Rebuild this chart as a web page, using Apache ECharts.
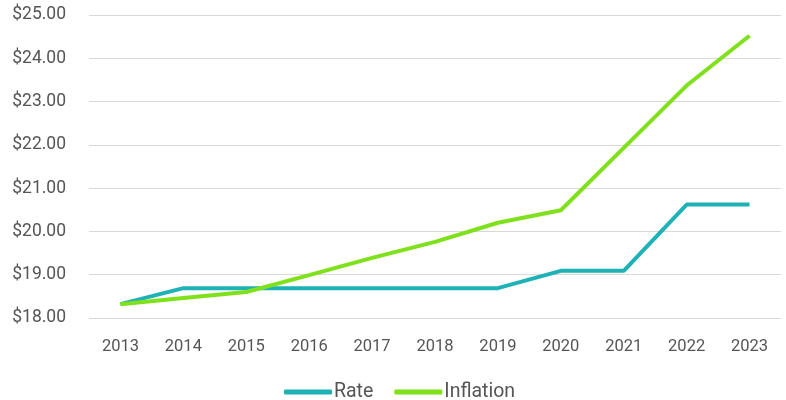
<!DOCTYPE html>
<html>
<head>
<meta charset="utf-8">
<script src="https://cdn.jsdelivr.net/npm/echarts@6/dist/echarts.min.js"></script>
<style>
  html, body { margin: 0; padding: 0; background: #fff; }
  #chart { width: 786px; height: 400px; }
</style>
</head>
<body>
<div id="chart"></div>
<script>
var years = ['2013', '2014', '2015', '2016', '2017', '2018', '2019', '2020', '2021', '2022', '2023'];
var rate = [18.32, 18.69, 18.69, 18.69, 18.69, 18.69, 18.69, 19.09, 19.09, 20.62, 20.62];
var inflation = [18.32, 18.46, 18.60, 18.99, 19.39, 19.76, 20.20, 20.49, 21.93, 23.37, 24.52];

var chart = echarts.init(document.getElementById('chart'));
chart.setOption({
  animation: false,
  textStyle: { fontFamily: 'Roboto' },
  grid: { left: 89, right: 5, top: 15, bottom: 82 },
  legend: {
    top: 377,
    left: 279,
    itemWidth: 48,
    itemHeight: 5,
    itemGap: 21,
    icon: 'roundRect',
    textStyle: { fontSize: 19.5, color: '#555', fontFamily: 'Roboto', padding: [0, 0, 0, -3] },
    data: ['Rate', 'Inflation']
  },
  xAxis: {
    type: 'category',
    data: years,
    boundaryGap: true,
    axisLine: { show: false },
    axisTick: { show: false },
    axisLabel: { fontSize: 16.5, color: '#555', margin: 20 }
  },
  yAxis: {
    type: 'value',
    min: 18,
    max: 25,
    interval: 1,
    axisLine: { show: false },
    axisTick: { show: false },
    splitLine: { lineStyle: { color: '#d9d9d9', width: 1 } },
    axisLabel: {
      fontSize: 17.5,
      color: '#555',
      margin: 23,
      formatter: function (v) { return '$' + v.toFixed(2); }
    }
  },
  series: [
    {
      name: 'Rate',
      type: 'line',
      data: rate,
      symbol: 'none',
      lineStyle: { color: '#1eb1b6', width: 4 },
      itemStyle: { color: '#1eb1b6' }
    },
    {
      name: 'Inflation',
      type: 'line',
      data: inflation,
      symbol: 'none',
      lineStyle: { color: '#7fe01c', width: 4 },
      itemStyle: { color: '#7fe01c' }
    }
  ]
});
</script>
</body>
</html>
